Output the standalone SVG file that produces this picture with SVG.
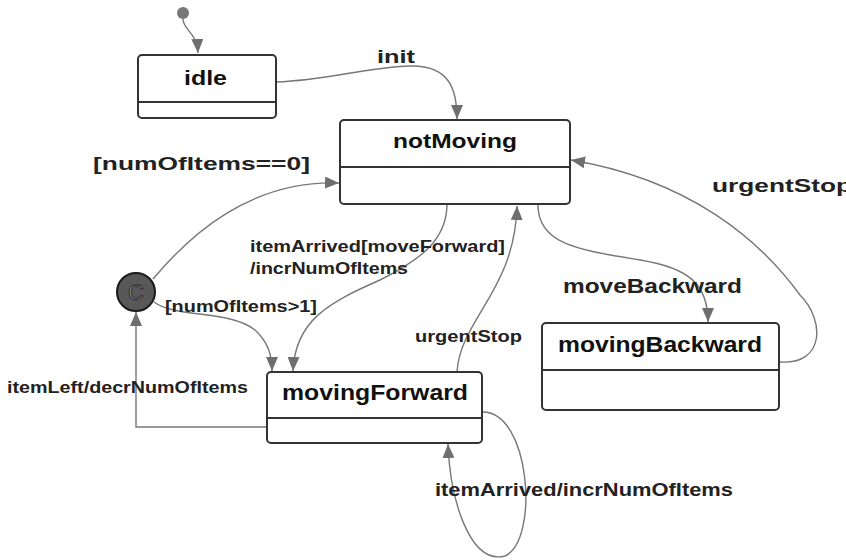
<svg xmlns="http://www.w3.org/2000/svg" width="846" height="560" viewBox="0 0 846 560">
<style>
.box{fill:#fff;stroke:#333;stroke-width:2}
.div{stroke:#333;stroke-width:2}
.name{font-family:"Liberation Sans",Arial,sans-serif;font-weight:bold;fill:#111}
.lbl{font-family:"Liberation Sans",Arial,sans-serif;font-weight:bold;fill:#222}
.edge{fill:none;stroke:#777;stroke-width:1.4}
</style>
<defs>
<marker id="arr" viewBox="0 0 14 12" refX="14" refY="6" markerWidth="14" markerHeight="12" markerUnits="userSpaceOnUse" orient="auto">
<path d="M0,0 L14,6 L0,12 Z" fill="#6e6e6e"/>
</marker>
</defs>
<rect width="846" height="560" fill="#fff"/>
<g id="connectors">
<path class="edge" marker-end="url(#arr)" d="M183,19 C183,30 197,32 198,53"/>
<path class="edge" marker-end="url(#arr)" d="M276,82 C330,80 360,68 410,66 C450,65 457,90 457,119"/>
<path class="edge" marker-end="url(#arr)" d="M153,279 C190,235 250,180 339,183"/>
<path class="edge" marker-end="url(#arr)" d="M447,204 C447,240 420,260 380,280 C330,302 295,320 293,371"/>
<path class="edge" marker-end="url(#arr)" d="M154,302 C175,318 230,310 255,330 C268,342 272,355 272,371"/>
<path class="edge" marker-end="url(#arr)" d="M538,205 C538,245 580,250 640,260 C690,268 708,285 708,322"/>
<path class="edge" marker-end="url(#arr)" d="M457,372 C460,320 515,290 517,206"/>
<path class="edge" marker-end="url(#arr)" d="M780,362 C825,365 825,320 800,295 C760,240 690,180 571,160"/>
<path class="edge" marker-end="url(#arr)" d="M482,412 C530,410 540,540 505,556 C470,565 450,500 448,444"/>
<path class="edge" marker-end="url(#arr)" d="M267,427 L136,427 L136,312"/>
<text class="lbl" x="377" y="63" font-size="18" textLength="38" lengthAdjust="spacingAndGlyphs">init</text>
<text class="lbl" x="93" y="170" font-size="19" textLength="217" lengthAdjust="spacingAndGlyphs">[numOfItems==0]</text>
<text class="lbl" x="712" y="192" font-size="19" textLength="140" lengthAdjust="spacingAndGlyphs">urgentStop</text>
<text class="lbl" x="563" y="293" font-size="20" textLength="179" lengthAdjust="spacingAndGlyphs">moveBackward</text>
<text class="lbl" x="250" y="252" font-size="17" textLength="255" lengthAdjust="spacingAndGlyphs">itemArrived[moveForward]</text>
<text class="lbl" x="250" y="274" font-size="17" textLength="158" lengthAdjust="spacingAndGlyphs">/incrNumOfItems</text>
<text class="lbl" x="165" y="312" font-size="16" textLength="152" lengthAdjust="spacingAndGlyphs">[numOfItems&gt;1]</text>
<text class="lbl" x="415" y="342" font-size="16" textLength="107" lengthAdjust="spacingAndGlyphs">urgentStop</text>
<text class="lbl" x="7" y="393" font-size="17" textLength="241" lengthAdjust="spacingAndGlyphs">itemLeft/decrNumOfItems</text>
<text class="lbl" x="435" y="496" font-size="18" textLength="298" lengthAdjust="spacingAndGlyphs">itemArrived/incrNumOfItems</text>
</g>
<g id="initial">
<circle cx="183" cy="13" r="6" fill="#777"/>
</g>
<g id="idle">
<rect class="box" x="138" y="55" width="138" height="63" rx="4"/>
<line class="div" x1="138" y1="102" x2="276" y2="102"/>
<text class="name" x="184" y="85" font-size="21" textLength="43" lengthAdjust="spacingAndGlyphs">idle</text>
</g>
<g id="notMoving">
<rect class="box" x="340" y="120" width="230" height="84" rx="4"/>
<line class="div" x1="340" y1="167" x2="570" y2="167"/>
<text class="name" x="393" y="148" font-size="21" textLength="124" lengthAdjust="spacingAndGlyphs">notMoving</text>
</g>
<g id="movingBackward">
<rect class="box" x="542" y="323" width="237" height="87" rx="4"/>
<line class="div" x1="542" y1="370" x2="779" y2="370"/>
<text class="name" x="558" y="352" font-size="22" textLength="204" lengthAdjust="spacingAndGlyphs">movingBackward</text>
</g>
<g id="movingForward">
<rect class="box" x="267" y="372" width="215" height="71" rx="4"/>
<line class="div" x1="267" y1="418" x2="482" y2="418"/>
<text class="name" x="282" y="400" font-size="22" textLength="186" lengthAdjust="spacingAndGlyphs">movingForward</text>
</g>
<g id="choice">
<circle cx="136" cy="292" r="19" fill="#585858" stroke="#1a1a1a" stroke-width="2"/>
<text x="136" y="300" font-size="22" text-anchor="middle" font-family="Liberation Sans, Arial, sans-serif" fill="#8a8a8a" stroke="#1e1e1e" stroke-width="0.8">C</text>
</g>
</svg>
